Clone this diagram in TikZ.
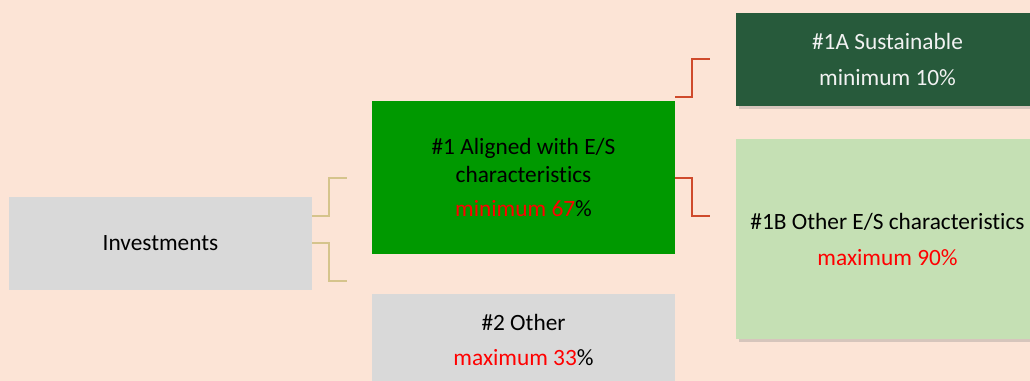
\documentclass[tikz,border=0pt]{standalone}
\usepackage{fontspec}
\setmainfont{Carlito}[Ligatures=NoCommon]
\usetikzlibrary{shadows}
\definecolor{peach}{HTML}{FCE4D6}
\definecolor{boxgray}{HTML}{D9D9D9}
\definecolor{esgreen}{HTML}{009900}
\definecolor{darkgreen}{HTML}{275A3B}
\definecolor{lightgreen}{HTML}{C5E0B4}
\definecolor{tanline}{HTML}{D5C48C}
\definecolor{redline}{HTML}{CF4A2C}
\begin{document}
\begin{tikzpicture}[x=0.75pt, y=-0.75pt,
    box/.style={rectangle, inner sep=0pt, align=center, minimum width=227.25pt, font=\fontsize{17.5}{21}\selectfont},
    shadowed/.style={drop shadow={opacity=0.3, shadow xshift=2pt, shadow yshift=-2pt}},
    tanlink/.style={draw=tanline, line width=1.5pt},
    redlink/.style={draw=redline, line width=1.5pt}
]
    % Canvas
    \useasboundingbox (0,0) rectangle (1030,381);
    \clip (0,0) rectangle (1030,381);
    \fill[peach] (0,0) rectangle (1030,381);

    % Boxes
    \node[box, fill=boxgray, minimum height=69.75pt] (inv) at (160.5,243.5) {Investments};
    \node[box, fill=esgreen, minimum height=114.75pt] (aligned) at (523.5,177.5)
        {\#1 Aligned with E/S\\characteristics\\[5pt]\textcolor{red}{minimum 67}\%};
    \node[box, fill=boxgray, minimum height=69.75pt] (other) at (523.5,340)
        {\#2 Other\\[5pt]\textcolor{red}{maximum 33}\%};
    \node[box, shadowed, fill=darkgreen, text=white!95!black, minimum height=69.75pt] (sust) at (887.5,59.5)
        {\#1A Sustainable\\[6pt]minimum 10\%};
    \node[box, shadowed, fill=lightgreen, minimum height=150pt] (othes) at (887.5,239)
        {\#1B Other E/S characteristics\\[6pt]\textcolor{red}{maximum 90\%}};

    % Connector ends
    \coordinate (invtop) at (312,216);
    \coordinate (invbot) at (312,243);
    \coordinate (toaligned) at (347,178);
    \coordinate (toother) at (347,281);
    \coordinate (algtop) at (675,97);
    \coordinate (algbot) at (675,178);
    \coordinate (tosust) at (710,59);
    \coordinate (toothes) at (710,216);

    % Brackets
    \draw[tanlink] (invtop) -- ++(17,0) |- (toaligned);
    \draw[tanlink] (invbot) -- ++(17,0) |- (toother);
    \draw[redlink] (algtop) -- ++(17,0) |- (tosust);
    \draw[redlink] (algbot) -- ++(17,0) |- (toothes);
\end{tikzpicture}
\end{document}
